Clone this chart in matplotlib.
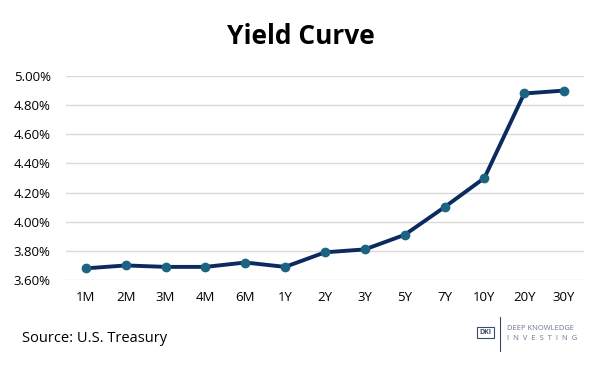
import matplotlib
matplotlib.use("Agg")
import matplotlib.pyplot as plt
from matplotlib.ticker import FuncFormatter
from matplotlib.patches import Rectangle
from matplotlib.lines import Line2D

categories = ["1M", "2M", "3M", "4M", "6M", "1Y", "2Y", "3Y", "5Y", "7Y", "10Y", "20Y", "30Y"]
yields = [3.68, 3.70, 3.69, 3.69, 3.72, 3.69, 3.79, 3.81, 3.91, 4.10, 4.30, 4.88, 4.90]
yticks = [3.60, 3.80, 4.00, 4.20, 4.40, 4.60, 4.80, 5.00]

plt.rcParams['font.family'] = ['Open Sans', 'DejaVu Sans']

W, H = 601, 367
fig = plt.figure(figsize=(W / 100, H / 100), dpi=100)
ax = fig.add_axes([66 / W, 1 - 280 / H, (584 - 66) / W, (280 - 76) / H])

x = list(range(len(categories)))
ax.plot(x, yields, color="#0b2a5e", lw=2.8, solid_joinstyle="round", zorder=3)
ax.plot(x, yields, ls="none", marker="o", ms=6, mfc="#1c6482", mec="#1c6482", zorder=4)

ax.set_xlim(-0.5, len(categories) - 0.5)
ax.set_ylim(3.60, 5.00)
ax.set_yticks(yticks)
ax.yaxis.set_major_formatter(FuncFormatter(lambda v, p: f"{v:.2f}%"))
ax.set_xticks(x)
ax.set_xticklabels(categories)
ax.grid(axis="y", color="#d9d9d9", lw=1)
ax.set_axisbelow(True)
for s in ax.spines.values():
    s.set_visible(False)
ax.tick_params(length=0, labelsize=9.5, colors="#000000", pad=8)
ax.tick_params(axis="y", pad=11)

fig.text(301 / W, 1 - 37 / H, "Yield Curve", ha="center", va="center",
         fontsize=19, fontweight="bold")
fig.text(22 / W, 1 - 339 / H, "Source: U.S. Treasury", ha="left", va="center",
         fontsize=10.5)

# logo
fig.patches.append(Rectangle((477 / W, 1 - 338 / H), 17 / W, 11 / H,
                             transform=fig.transFigure, fill=False,
                             ec="#3b4a6b", lw=0.8))
fig.text(485.5 / W, 1 - 332.5 / H, "DKI", ha="center", va="center",
         fontsize=5, fontweight="bold", color="#3b4a6b")
fig.lines.append(Line2D([500 / W, 500 / W], [1 - 351 / H, 1 - 317 / H],
                        transform=fig.transFigure, color="#3b4a6b", lw=0.8))
fig.text(507 / W, 1 - 329 / H, "DEEP KNOWLEDGE", ha="left", va="center",
         fontsize=5.4, color="#6b7690")
fig.text(507 / W, 1 - 338 / H, "I  N  V  E  S  T  I  N  G", ha="left", va="center",
         fontsize=5.4, color="#6b7690")

fig.savefig("out.png", dpi=100, facecolor="white")
